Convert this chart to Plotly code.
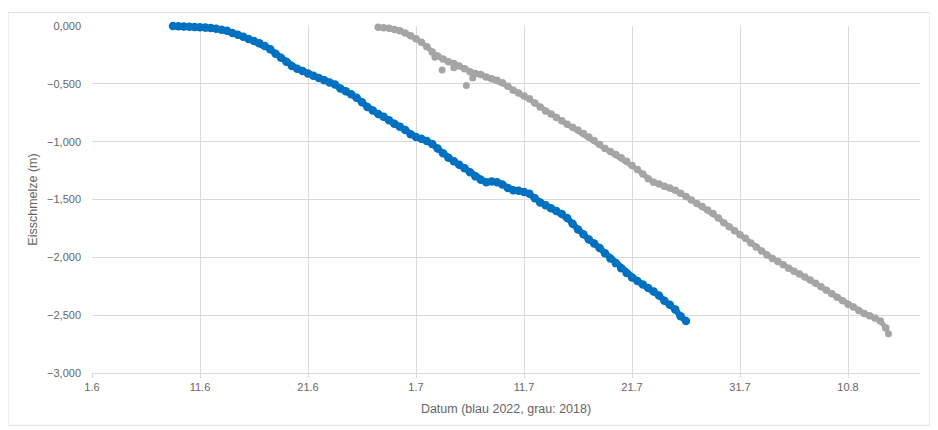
import pandas as pd
import plotly.graph_objects as go

# --- data ---
# blue: 2022, 12-hourly from 2022-06-08 12:00
blue_start = "2022-06-08 12:00"
blue_values = [
    0.000, -0.002, -0.004, -0.006, -0.008, -0.010, -0.014, -0.018, -0.024, -0.032,
    -0.042, -0.060, -0.075, -0.092, -0.112, -0.130, -0.150, -0.172, -0.200, -0.240,
    -0.275, -0.310, -0.345, -0.370, -0.390, -0.410, -0.430, -0.450, -0.468, -0.488,
    -0.505, -0.540, -0.565, -0.590, -0.620, -0.660, -0.700, -0.730, -0.760, -0.785,
    -0.815, -0.845, -0.870, -0.900, -0.935,
    -0.960, -0.975, -0.995, -1.020, -1.060, -1.100, -1.140, -1.170, -1.200, -1.230,
    -1.265, -1.300, -1.330, -1.350, -1.345, -1.350, -1.370, -1.400, -1.420, -1.425,
    -1.435, -1.450, -1.490, -1.525, -1.550, -1.575, -1.600, -1.625, -1.660, -1.710,
    -1.760, -1.800, -1.845, -1.880, -1.920, -1.965, -2.010, -2.050, -2.095, -2.135,
    -2.175, -2.205, -2.235, -2.265, -2.295, -2.330, -2.375, -2.410, -2.450, -2.510,
    -2.550,
]

# grey: 2018 (plotted on the same calendar days), 12-hourly from 06-27 12:00
grey_start = "2022-06-27 12:00"
grey_values = [
    -0.010, -0.015, -0.020, -0.030, -0.040, -0.060, -0.085,
    -0.110, -0.140, -0.180, -0.225, -0.260, -0.285, -0.310, -0.325, -0.345, -0.370,
    -0.395, -0.410, -0.420, -0.440, -0.455, -0.470, -0.490, -0.520, -0.555, -0.580,
    -0.605, -0.630, -0.665, -0.700, -0.735, -0.760, -0.790, -0.820, -0.850, -0.875,
    -0.900, -0.930, -0.960, -0.990, -1.025, -1.060, -1.085, -1.110, -1.140, -1.170,
    -1.205, -1.240, -1.280, -1.320, -1.350, -1.365, -1.385, -1.400, -1.420, -1.445,
    -1.475, -1.505, -1.535, -1.560, -1.590, -1.620, -1.660, -1.700, -1.735, -1.770,
    -1.805, -1.835,
    -1.875, -1.910, -1.945, -1.980, -2.010, -2.035, -2.065, -2.095, -2.120, -2.145,
    -2.170, -2.195, -2.225, -2.255, -2.285, -2.315, -2.345, -2.375, -2.405, -2.430,
    -2.460, -2.485, -2.505, -2.525, -2.550, -2.610,
]
# scattered single readings (mostly below the band early in July, and the last one)
grey_extra_times = ["2022-07-02 18:00", "2022-07-03 10:00", "2022-07-04 12:00",
                    "2022-07-05 16:00", "2022-07-06 06:00", "2022-08-13 18:00"]
grey_extra_values = [-0.27, -0.38, -0.36, -0.515, -0.45, -2.66]

tick_dates = ["2022-06-01", "2022-06-11", "2022-06-21", "2022-07-01",
              "2022-07-11", "2022-07-21", "2022-07-31", "2022-08-10"]
tick_labels = ["1.6", "11.6", "21.6", "1.7", "11.7", "21.7", "31.7", "10.8"]
y_ticks = [0, -0.5, -1, -1.5, -2, -2.5, -3]

x_title = "Datum (blau 2022, grau: 2018)"
y_title = "Eisschmelze (m)"

# --- build ---
blue_x = pd.date_range(blue_start, periods=len(blue_values), freq="12h")
grey_main_x = pd.date_range(grey_start, periods=len(grey_values), freq="12h")
grey_extra_x = pd.to_datetime(grey_extra_times)

GRID = "#d9d9d9"
TXT = "#666666"
BLUE = "#0070c0"
GREY = "#a5a5a5"

fig = go.Figure()
# grey band (continuous readings) + scattered readings
fig.add_trace(go.Scatter(x=grey_main_x, y=grey_values, mode="lines+markers",
                         line=dict(color=GREY, width=5),
                         marker=dict(color=GREY, size=7.5, line=dict(width=0)),
                         cliponaxis=False, showlegend=False))
fig.add_trace(go.Scatter(x=grey_extra_x, y=grey_extra_values, mode="markers",
                         marker=dict(color=GREY, size=7, line=dict(width=0)),
                         cliponaxis=False, showlegend=False))
fig.add_trace(go.Scatter(x=blue_x, y=blue_values, mode="lines+markers",
                         line=dict(color=BLUE, width=6),
                         marker=dict(color=BLUE, size=8.5, line=dict(width=0)),
                         cliponaxis=False, showlegend=False))

# page body has an 8px margin, so the figure is made 8px smaller on top/left
fig.update_layout(
    width=930, height=422,
    margin=dict(l=84, r=18, t=14, b=57),
    paper_bgcolor="white", plot_bgcolor="white",
    separators=",.",
    font=dict(family="Liberation Sans, Arial, sans-serif", size=11, color=TXT),
    xaxis=dict(
        type="date",
        range=["2022-06-01", "2022-08-16 16:00"],
        tickvals=tick_dates, ticktext=tick_labels,
        showgrid=True, gridcolor=GRID, gridwidth=1,
        showline=True, linecolor=GRID, linewidth=1,
        ticks="outside", ticklen=4, tickcolor=GRID,
        tickfont=dict(size=11),
        zeroline=False,
        title=dict(text=x_title, font=dict(size=12.5, color=TXT), standoff=12),
    ),
    yaxis=dict(
        range=[-3, 0],
        tickvals=y_ticks, tickformat=".3f",
        showgrid=True, gridcolor=GRID, gridwidth=1,
        showline=False, zeroline=False,
        ticks="", ticklabelstandoff=10,
        tickfont=dict(size=11),
        title=dict(text=y_title, font=dict(size=12.5, color=TXT), standoff=6),
    ),
    shapes=[dict(type="rect", xref="paper", yref="paper",
                 x0=(0 - 84) / 828, x1=(922 - 84) / 828,
                 y0=(365 - 418) / 351, y1=(365 - 0.5) / 351,
                 line=dict(color="#e0e0e0", width=1), layer="below")],
)

fig.write_html("out.html")
